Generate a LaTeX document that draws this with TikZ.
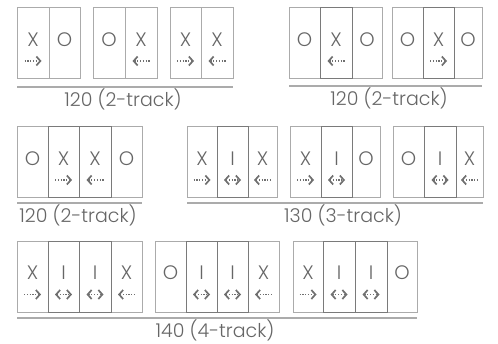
\documentclass[tikz,border=0pt]{standalone}
\usepackage{fontspec}
\IfFontExistsTF{Poppins Light}{\setmainfont{Poppins Light}}{\setmainfont{Poppins}}
\usetikzlibrary{arrows.meta}
\definecolor{lightb}{HTML}{ABABAB}
\definecolor{darkb}{HTML}{7A7A7A}
\definecolor{txt}{HTML}{666666}
\definecolor{arr}{HTML}{707070}
\tikzset{
  cellL/.style={draw=lightb, line width=1pt, rectangle, inner sep=0pt},
  cellD/.style={draw=darkb, line width=1pt, rectangle, inner sep=0pt},
  letter/.style={text=txt, font=\fontsize{19.5}{20}\selectfont, inner sep=0pt},
  caption/.style={text=txt, font=\fontsize{19}{20}\selectfont, inner sep=0pt, anchor=base},
  uline/.style={draw=lightb, line width=1.5pt},
  dotarr/.style={draw=arr, line width=1.3pt, dash pattern=on 1.2pt off 1.6pt},
  tip/.tip={Straight Barb[length=4pt, width=9pt, line width=1.7pt]},
  arrr/.style={-tip},
  arrl/.style={tip-},
  arrb/.style={tip-tip},
  arrn/.style={draw=none},
}
\newcommand\pcell[7]{%
  \node[#7, minimum width={(#3-#2)*1pt}, minimum height=71pt] (#1) at ({(#2+#3)/2},{#4+35.5}) {};
  \node[letter] (#1t) at ([yshift=4pt]#1.center) {#5};
  \coordinate (#1a) at ([yshift=-17.5pt]#1.center);
  \draw[dotarr, arr#6] ([xshift=-8.5pt]#1a) -- ([xshift=8.5pt]#1a);
}
\begin{document}
\begin{tikzpicture}[x=1pt, y=-1pt]
\useasboundingbox (0,0) rectangle (498,344);
% Row 1 left
\pcell{a1}{17}{49}{8}{X}{r}{cellL}
\pcell{a2}{49}{80}{8}{O}{n}{cellL}
\pcell{b1}{93}{125}{8}{O}{n}{cellL}
\pcell{b2}{125}{157}{8}{X}{l}{cellL}
\pcell{c1}{170}{201}{8}{X}{r}{cellL}
\pcell{c2}{201}{233}{8}{X}{l}{cellL}
\coordinate (u1s) at (17,87);
\coordinate (u1e) at (233,87);
\draw[uline] (u1s) -- (u1e);
\node[caption] (cap1) at (123,107) {120 (2-track)};
% Row 1 right
\pcell{d1}{289}{320}{8}{O}{n}{cellL}
\pcell{d3}{352}{382}{8}{O}{n}{cellL}
\pcell{e1}{392}{423}{8}{O}{n}{cellL}
\pcell{e3}{454}{482}{8}{O}{n}{cellL}
\pcell{d2}{320}{352}{8}{X}{l}{cellD}
\pcell{e2}{423}{454}{8}{X}{r}{cellD}
\coordinate (u2s) at (289,86);
\coordinate (u2e) at (482,86);
\draw[uline] (u2s) -- (u2e);
\node[caption] (cap2) at (389,106) {120 (2-track)};
% Row 2 left
\pcell{f1}{17}{48}{127}{O}{n}{cellL}
\pcell{f4}{111}{142}{127}{O}{n}{cellL}
\pcell{f2}{48}{79}{127}{X}{r}{cellD}
\pcell{f3}{79}{111}{127}{X}{l}{cellD}
\coordinate (u3s) at (17,203);
\coordinate (u3e) at (142,203);
\draw[uline] (u3s) -- (u3e);
\node[caption] (cap3) at (78,223) {120 (2-track)};
% Row 2 right
\pcell{g1}{187}{217}{127}{X}{r}{cellL}
\pcell{g3}{248}{277}{127}{X}{l}{cellL}
\pcell{h1}{290}{321}{127}{X}{r}{cellL}
\pcell{h3}{352}{380}{127}{O}{n}{cellL}
\pcell{i1}{393}{424}{127}{O}{n}{cellL}
\pcell{i3}{456}{483}{127}{X}{l}{cellL}
\pcell{g2}{217}{248}{127}{I}{b}{cellD}
\pcell{h2}{321}{352}{127}{I}{b}{cellD}
\pcell{i2}{424}{456}{127}{I}{b}{cellD}
\coordinate (u4s) at (187,203);
\coordinate (u4e) at (483,203);
\draw[uline] (u4s) -- (u4e);
\node[caption] (cap4) at (343,223) {130 (3-track)};
% Row 3
\pcell{j1}{17}{48}{241.5}{X}{r}{cellL}
\pcell{j4}{111}{142}{241.5}{X}{l}{cellL}
\pcell{k1}{155}{186}{241.5}{O}{n}{cellL}
\pcell{k4}{248}{279}{241.5}{X}{l}{cellL}
\pcell{l1}{293}{323}{241.5}{X}{r}{cellL}
\pcell{l4}{387}{417}{241.5}{O}{n}{cellL}
\pcell{j2}{48}{79}{241.5}{I}{b}{cellD}
\pcell{j3}{79}{111}{241.5}{I}{b}{cellD}
\pcell{k2}{186}{217}{241.5}{I}{b}{cellD}
\pcell{k3}{217}{248}{241.5}{I}{b}{cellD}
\pcell{l2}{323}{355}{241.5}{I}{b}{cellD}
\pcell{l3}{355}{387}{241.5}{I}{b}{cellD}
\coordinate (u5s) at (17,318);
\coordinate (u5e) at (417,318);
\draw[uline] (u5s) -- (u5e);
\node[caption] (cap5) at (215,338) {140 (4-track)};
\end{tikzpicture}
\end{document}
